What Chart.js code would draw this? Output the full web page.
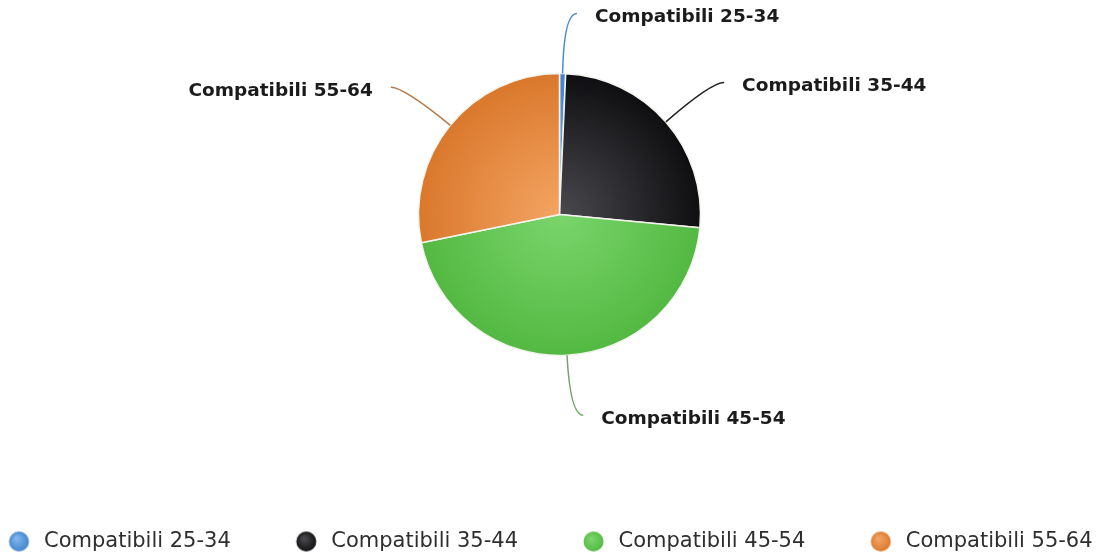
<!DOCTYPE html>
<html>
<head>
<meta charset="utf-8">
<script src="https://cdn.jsdelivr.net/npm/chart.js@4.4.1/dist/chart.umd.min.js"></script>
<style>
  html, body { margin: 0; padding: 0; background: #fff; }
  #wrap { width: 1119px; height: 558px; }
</style>
</head>
<body>
<div id="wrap"><canvas id="pieChart"></canvas></div>
<script>
// Data ---------
const categories = ['Compatibili 25-34', 'Compatibili 35-44', 'Compatibili 45-54', 'Compatibili 55-64'];
const shares = [0.7, 25.8, 45.3, 28.2];

// Colours (inner = near centre, outer = rim)
const innerColors = ['#7fb6ee', '#4a4a4e', '#7ad56b', '#f4a463'];
const outerColors = ['#3f82cc', '#0d0d10', '#52b841', '#d9772a'];
const lineColors = ['#4a8ad2', '#222222', '#6fa866', '#b5784a'];

function sliceFill(context) {
    const i = context.dataIndex;
    const chart = context.chart;
    const area = chart.chartArea;
    if (!area) return outerColors[i];
    const cx = (area.left + area.right) / 2;
    const cy = (area.top + area.bottom) / 2;
    const g = chart.ctx.createRadialGradient(cx, cy, 0, cx, cy, 145);
    g.addColorStop(0, innerColors[i]);
    g.addColorStop(1, outerColors[i]);
    return g;
}

// glossy dots for the legend; the image is wide so the dot sits right next to the text
function legendDot(i) {
    const c = document.createElement('canvas');
    c.width = 80; c.height = 22;
    const x = c.getContext('2d');
    const g = x.createRadialGradient(63, 8, 1, 65.5, 11, 11);
    g.addColorStop(0, innerColors[i]);
    g.addColorStop(1, outerColors[i]);
    x.fillStyle = g;
    x.beginPath();
    x.arc(65.5, 11, 10, 0, Math.PI * 2);
    x.fill();
    return c;
}

// Labels with curved connectors ---------
const leaderLabels = {
    id: 'leaderLabels',
    afterDatasetsDraw(chart) {
        const ctx = chart.ctx;
        const meta = chart.getDatasetMeta(0);
        ctx.save();
        ctx.font = 'bold 18.5px "DejaVu Sans"';
        ctx.textBaseline = 'middle';
        meta.data.forEach(function(arc, i) {
            const p = arc.getProps(['x', 'y', 'startAngle', 'endAngle', 'outerRadius'], true);
            const mid = (p.startAngle + p.endAngle) / 2;
            const cos = Math.cos(mid), sin = Math.sin(mid);
            const x1 = p.x + cos * p.outerRadius, y1 = p.y + sin * p.outerRadius;
            const x2 = p.x + cos * (p.outerRadius + 60), y2 = p.y + sin * (p.outerRadius + 60);
            const dir = cos >= -0.1 ? 1 : -1;
            const x3 = x2 + dir * 13, y3 = y2;
            ctx.strokeStyle = lineColors[i];
            ctx.lineWidth = 1.5;
            ctx.beginPath();
            ctx.moveTo(x1, y1);
            ctx.quadraticCurveTo(x2, y2, x3, y3);
            ctx.stroke();
            ctx.fillStyle = '#1b1b1b';
            ctx.textAlign = dir > 0 ? 'left' : 'right';
            ctx.fillText(categories[i], x3 + dir * 18, y3 + 4);
        });
        ctx.restore();
    }
};

// move the legend down to the bottom edge and out to the left after layout
const legendPlace = {
    id: 'legendPlace',
    afterLayout(chart) {
        const lg = chart.legend;
        const h = lg.bottom - lg.top;
        lg.top = 521;
        lg.bottom = 521 + h;
        lg.left = -56.5;
    }
};

const ctx = document.getElementById('pieChart').getContext('2d');
const pieChart = new Chart(ctx, {
    type: 'pie',
    data: {
        labels: categories,
        datasets: [{
            data: shares,
            backgroundColor: sliceFill,
            borderColor: '#f4f4ee',
            borderWidth: 1.5,
            radius: 141
        }]
    },
    options: {
        responsive: true,
        maintainAspectRatio: false,
        animation: false,
        layout: { padding: { top: 0, bottom: 88, left: -23, right: -27 } },
        plugins: {
            tooltip: { enabled: false },
            legend: {
                position: 'bottom',
                align: 'start',
                labels: {
                    usePointStyle: true,
                    pointStyleWidth: 80,
                    padding: 10,
                    color: '#2e2e2e',
                    font: { family: '"DejaVu Sans"', size: 21 },
                    generateLabels: function(chart) {
                        return categories.map(function(name, i) {
                            return {
                                text: name,
                                fillStyle: outerColors[i],
                                strokeStyle: outerColors[i],
                                lineWidth: 0,
                                pointStyle: legendDot(i),
                                fontColor: '#2e2e2e',
                                hidden: false,
                                index: i
                            };
                        });
                    }
                }
            }
        }
    },
    plugins: [leaderLabels, legendPlace]
});
</script>
</body>
</html>
